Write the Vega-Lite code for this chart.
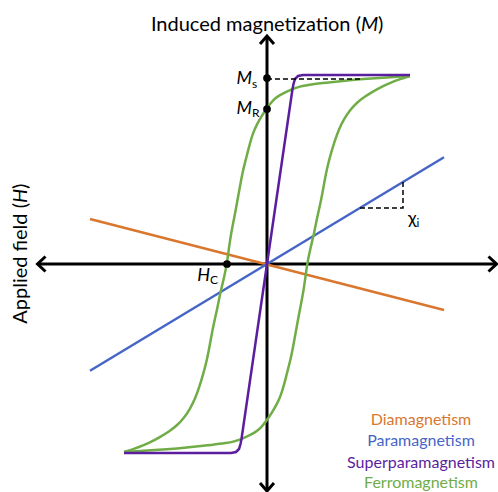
{
  "$schema": "https://vega.github.io/schema/vega-lite/v6.json",
  "width": 498,
  "height": 492,
  "autosize": {"type": "none"},
  "padding": 0,
  "background": "white",
  "config": {"view": {"stroke": null}},
  "datasets": {
    "axes": [
      {"seg": "h", "order": 0, "x": -228, "y": 0},
      {"seg": "h", "order": 1, "x": 228, "y": 0},
      {"seg": "v", "order": 0, "x": 0, "y": -225.5},
      {"seg": "v", "order": 1, "x": 0, "y": 226.5},
      {"seg": "ar", "order": 0, "x": 221.5, "y": 7.5},
      {"seg": "ar", "order": 1, "x": 229.5, "y": 0},
      {"seg": "ar", "order": 2, "x": 221.5, "y": -7.5},
      {"seg": "al", "order": 0, "x": -221.5, "y": 7.5},
      {"seg": "al", "order": 1, "x": -229.5, "y": 0},
      {"seg": "al", "order": 2, "x": -221.5, "y": -7.5},
      {"seg": "au", "order": 0, "x": -7, "y": 220},
      {"seg": "au", "order": 1, "x": 0, "y": 228},
      {"seg": "au", "order": 2, "x": 7, "y": 220},
      {"seg": "ad", "order": 0, "x": -7, "y": -219},
      {"seg": "ad", "order": 1, "x": 0, "y": -227},
      {"seg": "ad", "order": 2, "x": 7, "y": -219}
    ],
    "dia": [
      {"order": 0, "x": -177, "y": 45},
      {"order": 1, "x": 177, "y": -46}
    ],
    "para": [
      {"order": 0, "x": -177, "y": -106.7},
      {"order": 1, "x": 177, "y": 106.7}
    ],
    "superpara": [
      {"order": 0, "x": -143, "y": -189},
      {"order": 1, "x": -36, "y": -189},
      {"order": 2, "x": -31, "y": -188},
      {"order": 3, "x": -28, "y": -185},
      {"order": 4, "x": -26.5, "y": -180},
      {"order": 5, "x": -25.5, "y": -175},
      {"order": 6, "x": 0, "y": 0},
      {"order": 7, "x": 25.5, "y": 175},
      {"order": 8, "x": 26.5, "y": 180},
      {"order": 9, "x": 28, "y": 185},
      {"order": 10, "x": 31, "y": 188},
      {"order": 11, "x": 36, "y": 189},
      {"order": 12, "x": 143, "y": 189}
    ],
    "ferro": [
      {"branch": "upper", "order": 0, "x": 143, "y": 188},
      {"branch": "upper", "order": 1, "x": 110, "y": 186},
      {"branch": "upper", "order": 2, "x": 90, "y": 184.5},
      {"branch": "upper", "order": 3, "x": 70, "y": 182.5},
      {"branch": "upper", "order": 4, "x": 56, "y": 181},
      {"branch": "upper", "order": 5, "x": 40, "y": 179},
      {"branch": "upper", "order": 6, "x": 33, "y": 177.5},
      {"branch": "upper", "order": 7, "x": 25, "y": 175},
      {"branch": "upper", "order": 8, "x": 19, "y": 172},
      {"branch": "upper", "order": 9, "x": 12, "y": 168.5},
      {"branch": "upper", "order": 10, "x": 6, "y": 164},
      {"branch": "upper", "order": 11, "x": 0, "y": 156},
      {"branch": "upper", "order": 12, "x": -5, "y": 148.5},
      {"branch": "upper", "order": 13, "x": -10, "y": 140},
      {"branch": "upper", "order": 14, "x": -14, "y": 131},
      {"branch": "upper", "order": 15, "x": -17, "y": 121},
      {"branch": "upper", "order": 16, "x": -20, "y": 109},
      {"branch": "upper", "order": 17, "x": -24, "y": 94},
      {"branch": "upper", "order": 18, "x": -27, "y": 78},
      {"branch": "upper", "order": 19, "x": -30, "y": 61},
      {"branch": "upper", "order": 20, "x": -33, "y": 45},
      {"branch": "upper", "order": 21, "x": -37, "y": 25},
      {"branch": "upper", "order": 22, "x": -40, "y": 0},
      {"branch": "upper", "order": 23, "x": -43, "y": -14},
      {"branch": "upper", "order": 24, "x": -47, "y": -30},
      {"branch": "upper", "order": 25, "x": -50, "y": -46},
      {"branch": "upper", "order": 26, "x": -54, "y": -63},
      {"branch": "upper", "order": 27, "x": -57, "y": -80},
      {"branch": "upper", "order": 28, "x": -60, "y": -96},
      {"branch": "upper", "order": 29, "x": -64, "y": -111},
      {"branch": "upper", "order": 30, "x": -68, "y": -124},
      {"branch": "upper", "order": 31, "x": -72, "y": -135},
      {"branch": "upper", "order": 32, "x": -77, "y": -145},
      {"branch": "upper", "order": 33, "x": -83, "y": -154},
      {"branch": "upper", "order": 34, "x": -90, "y": -161.5},
      {"branch": "upper", "order": 35, "x": -98, "y": -167.5},
      {"branch": "upper", "order": 36, "x": -107, "y": -173},
      {"branch": "upper", "order": 37, "x": -115, "y": -177.5},
      {"branch": "upper", "order": 38, "x": -124, "y": -181.5},
      {"branch": "upper", "order": 39, "x": -133, "y": -185},
      {"branch": "upper", "order": 40, "x": -143, "y": -188},
      {"branch": "lower", "order": 0, "x": -143, "y": -188},
      {"branch": "lower", "order": 1, "x": -110, "y": -186},
      {"branch": "lower", "order": 2, "x": -90, "y": -184.5},
      {"branch": "lower", "order": 3, "x": -70, "y": -182.5},
      {"branch": "lower", "order": 4, "x": -56, "y": -181},
      {"branch": "lower", "order": 5, "x": -40, "y": -179},
      {"branch": "lower", "order": 6, "x": -33, "y": -177.5},
      {"branch": "lower", "order": 7, "x": -25, "y": -175},
      {"branch": "lower", "order": 8, "x": -19, "y": -172},
      {"branch": "lower", "order": 9, "x": -12, "y": -168.5},
      {"branch": "lower", "order": 10, "x": -6, "y": -164},
      {"branch": "lower", "order": 11, "x": 0, "y": -156},
      {"branch": "lower", "order": 12, "x": 5, "y": -148.5},
      {"branch": "lower", "order": 13, "x": 10, "y": -140},
      {"branch": "lower", "order": 14, "x": 14, "y": -131},
      {"branch": "lower", "order": 15, "x": 17, "y": -121},
      {"branch": "lower", "order": 16, "x": 20, "y": -109},
      {"branch": "lower", "order": 17, "x": 24, "y": -94},
      {"branch": "lower", "order": 18, "x": 27, "y": -78},
      {"branch": "lower", "order": 19, "x": 30, "y": -61},
      {"branch": "lower", "order": 20, "x": 33, "y": -45},
      {"branch": "lower", "order": 21, "x": 37, "y": -25},
      {"branch": "lower", "order": 22, "x": 40, "y": 0},
      {"branch": "lower", "order": 23, "x": 43, "y": 14},
      {"branch": "lower", "order": 24, "x": 47, "y": 30},
      {"branch": "lower", "order": 25, "x": 50, "y": 46},
      {"branch": "lower", "order": 26, "x": 54, "y": 63},
      {"branch": "lower", "order": 27, "x": 57, "y": 80},
      {"branch": "lower", "order": 28, "x": 60, "y": 96},
      {"branch": "lower", "order": 29, "x": 64, "y": 111},
      {"branch": "lower", "order": 30, "x": 68, "y": 124},
      {"branch": "lower", "order": 31, "x": 72, "y": 135},
      {"branch": "lower", "order": 32, "x": 77, "y": 145},
      {"branch": "lower", "order": 33, "x": 83, "y": 154},
      {"branch": "lower", "order": 34, "x": 90, "y": 161.5},
      {"branch": "lower", "order": 35, "x": 98, "y": 167.5},
      {"branch": "lower", "order": 36, "x": 107, "y": 173},
      {"branch": "lower", "order": 37, "x": 115, "y": 177.5},
      {"branch": "lower", "order": 38, "x": 124, "y": 181.5},
      {"branch": "lower", "order": 39, "x": 133, "y": 185},
      {"branch": "lower", "order": 40, "x": 143, "y": 188}
    ],
    "dashes": [
      {"seg": "ms", "order": 0, "x": 0, "y": 185},
      {"seg": "ms", "order": 1, "x": 95, "y": 185},
      {"seg": "chi", "order": 0, "x": 93, "y": 56},
      {"seg": "chi", "order": 1, "x": 136, "y": 56},
      {"seg": "chi", "order": 2, "x": 136, "y": 82}
    ],
    "dots": [
      {"label": "Ms", "x": 0, "y": 186},
      {"label": "MR", "x": 0, "y": 155},
      {"label": "HC", "x": -40, "y": 0}
    ],
    "titleLeft": [
      {"text": "Induced magnetization (", "x": 94, "y": 233}
    ],
    "titleItalic": [
      {"text": "M", "x": 94, "y": 233}
    ],
    "titleRight": [
      {"text": ")", "x": 111, "y": 233}
    ],
    "yTitleLeft": [
      {"text": "Applied field (", "x": -240, "y": 61}
    ],
    "yTitleItalic": [
      {"text": "H", "x": -240, "y": 61}
    ],
    "yTitleRight": [
      {"text": ")", "x": -240, "y": 75}
    ],
    "symbols": [
      {"text": "M", "x": -15, "y": 185},
      {"text": "M", "x": -15, "y": 155},
      {"text": "H", "x": -57, "y": -12}
    ],
    "chi": [
      {"text": "χ", "x": 149.5, "y": 45}
    ],
    "subs": [
      {"text": "s", "x": -15, "y": 180},
      {"text": "R", "x": -15, "y": 151},
      {"text": "C", "x": -57, "y": -16},
      {"text": "i", "x": 149.5, "y": 41}
    ],
    "legend": [
      {"text": "Diamagnetism", "series": "dia", "x": 154, "y": -156},
      {"text": "Paramagnetism", "series": "para", "x": 154, "y": -177},
      {"text": "Superparamagnetism", "series": "super", "x": 154, "y": -199},
      {"text": "Ferromagnetism", "series": "ferro", "x": 154, "y": -219}
    ]
  },
  "encoding": {
    "x": {"field": "x", "type": "quantitative", "scale": {"domain": [-267, 231], "nice": false, "zero": false}, "axis": null},
    "y": {"field": "y", "type": "quantitative", "scale": {"domain": [-228, 264], "nice": false, "zero": false}, "axis": null}
  },
  "layer": [
    {
      "data": {"name": "axes"},
      "mark": {"type": "line", "color": "black", "strokeWidth": 3, "strokeJoin": "miter", "strokeCap": "butt"},
      "encoding": {"detail": {"field": "seg"}, "order": {"field": "order", "type": "quantitative"}}
    },
    {
      "data": {"name": "dia"},
      "mark": {"type": "line", "color": "#D9772F", "strokeWidth": 2.5},
      "encoding": {"order": {"field": "order", "type": "quantitative"}}
    },
    {
      "data": {"name": "para"},
      "mark": {"type": "line", "color": "#4665C6", "strokeWidth": 2.5},
      "encoding": {"order": {"field": "order", "type": "quantitative"}}
    },
    {
      "data": {"name": "ferro"},
      "mark": {"type": "line", "color": "#70AD47", "strokeWidth": 2.5, "interpolate": "basis"},
      "encoding": {"detail": {"field": "branch"}, "order": {"field": "order", "type": "quantitative"}}
    },
    {
      "data": {"name": "superpara"},
      "mark": {"type": "line", "color": "#5B1E9E", "strokeWidth": 2.5, "interpolate": "linear"},
      "encoding": {"order": {"field": "order", "type": "quantitative"}}
    },
    {
      "data": {"name": "dashes"},
      "mark": {"type": "line", "color": "black", "strokeWidth": 1.5, "strokeDash": [5, 3]},
      "encoding": {"detail": {"field": "seg"}, "order": {"field": "order", "type": "quantitative"}}
    },
    {
      "data": {"name": "dots"},
      "mark": {"type": "point", "filled": true, "color": "black", "opacity": 1, "size": 60}
    },
    {
      "data": {"name": "titleLeft"},
      "mark": {"type": "text", "font": "Lato", "fontSize": 20, "align": "right", "baseline": "alphabetic", "color": "black"},
      "encoding": {"text": {"field": "text"}}
    },
    {
      "data": {"name": "titleItalic"},
      "mark": {"type": "text", "font": "Lato", "fontSize": 20, "fontStyle": "italic", "align": "left", "baseline": "alphabetic", "color": "black"},
      "encoding": {"text": {"field": "text"}}
    },
    {
      "data": {"name": "titleRight"},
      "mark": {"type": "text", "font": "Lato", "fontSize": 20, "align": "left", "baseline": "alphabetic", "color": "black"},
      "encoding": {"text": {"field": "text"}}
    },
    {
      "data": {"name": "yTitleLeft"},
      "mark": {"type": "text", "font": "Lato", "fontSize": 20, "angle": 270, "align": "right", "baseline": "alphabetic", "color": "black"},
      "encoding": {"text": {"field": "text"}}
    },
    {
      "data": {"name": "yTitleItalic"},
      "mark": {"type": "text", "font": "Lato", "fontSize": 20, "fontStyle": "italic", "angle": 270, "align": "left", "baseline": "alphabetic", "color": "black"},
      "encoding": {"text": {"field": "text"}}
    },
    {
      "data": {"name": "yTitleRight"},
      "mark": {"type": "text", "font": "Lato", "fontSize": 20, "angle": 270, "align": "left", "baseline": "alphabetic", "color": "black"},
      "encoding": {"text": {"field": "text"}}
    },
    {
      "data": {"name": "symbols"},
      "mark": {"type": "text", "font": "Lato", "fontSize": 18, "fontStyle": "italic", "align": "right", "baseline": "middle", "color": "black"},
      "encoding": {"text": {"field": "text"}}
    },
    {
      "data": {"name": "chi"},
      "mark": {"type": "text", "font": "Lato", "fontSize": 18, "align": "right", "baseline": "middle", "color": "black"},
      "encoding": {"text": {"field": "text"}}
    },
    {
      "data": {"name": "subs"},
      "mark": {"type": "text", "font": "Lato", "fontSize": 12, "align": "left", "baseline": "middle", "color": "black"},
      "encoding": {"text": {"field": "text"}}
    },
    {
      "data": {"name": "legend"},
      "mark": {"type": "text", "font": "Lato", "fontSize": 16, "align": "center", "baseline": "middle"},
      "encoding": {
        "text": {"field": "text"},
        "color": {"field": "series", "type": "nominal", "legend": null,
          "scale": {"domain": ["dia", "para", "super", "ferro"], "range": ["#D9772F", "#4665C6", "#5B1E9E", "#70AD47"]}}
      }
    }
  ]
}
